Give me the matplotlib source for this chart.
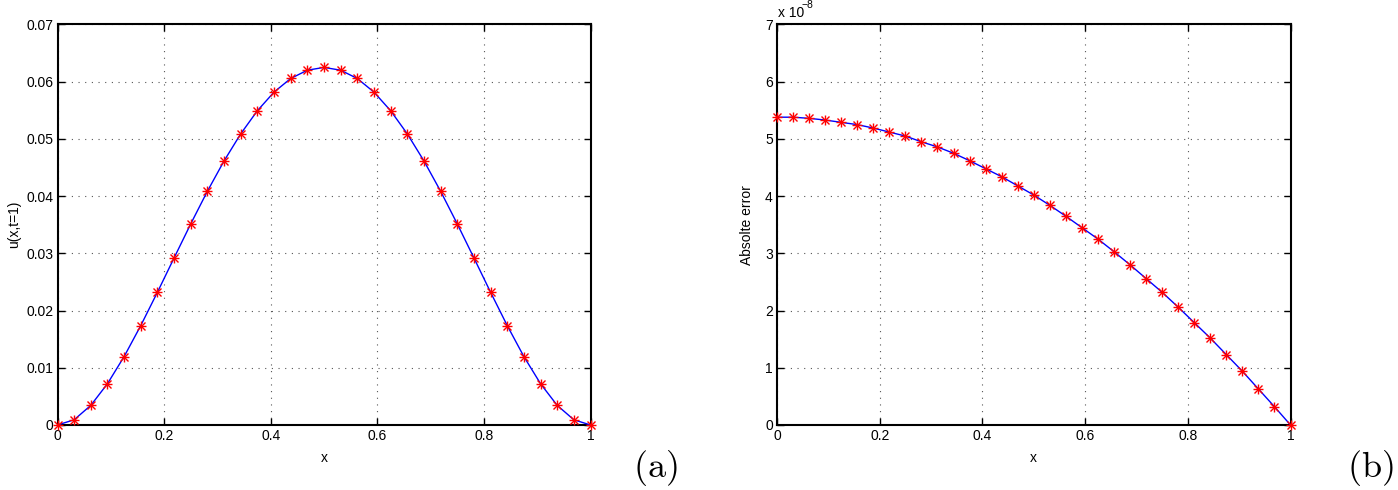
import matplotlib
matplotlib.use("Agg")
import matplotlib.pyplot as plt
import numpy as np

plt.rcParams['font.family'] = ['Liberation Sans', 'DejaVu Sans']
plt.rcParams['mathtext.fontset'] = 'cm'

# x positions (33 nodes)
x_nodes = [i / 32 for i in range(33)]

# panel (a): u(x, t=1)
u_vals = [0.0, 0.000916, 0.003433, 0.007218, 0.011963, 0.017381, 0.023209, 0.029206,
          0.035156, 0.040864, 0.046158, 0.050889, 0.054932, 0.058183, 0.060562, 0.062013,
          0.0625,
          0.062013, 0.060562, 0.058183, 0.054932, 0.050889, 0.046158, 0.040864, 0.035156,
          0.029206, 0.023209, 0.017381, 0.011963, 0.007218, 0.003433, 0.000916, 0.0]

# panel (b): absolute error (x 1e-8)
err_vals = [5.38, 5.38, 5.36, 5.33, 5.29, 5.25, 5.19, 5.12, 5.05, 4.95, 4.86, 4.75,
            4.62, 4.48, 4.34, 4.18, 4.02, 3.84, 3.65, 3.45, 3.25, 3.03, 2.80, 2.56,
            2.32, 2.06, 1.79, 1.52, 1.23, 0.94, 0.63, 0.32, 0.0]

x_ticks = [0, 0.2, 0.4, 0.6, 0.8, 1]
x_ticklabels = ['0', '0.2', '0.4', '0.6', '0.8', '1']
ya_ticks = [0, 0.01, 0.02, 0.03, 0.04, 0.05, 0.06, 0.07]
ya_ticklabels = ['0', '0.01', '0.02', '0.03', '0.04', '0.05', '0.06', '0.07']
yb_ticks = [0, 1, 2, 3, 4, 5, 6, 7]
yb_ticklabels = ['0', '1', '2', '3', '4', '5', '6', '7']

W, H = 1398, 490
fig = plt.figure(figsize=(W / 100, H / 100), dpi=100)

def frac(l, r, t, b):
    return [l / W, 1 - b / H, (r - l) / W, (b - t) / H]

axa = fig.add_axes(frac(57.5, 590.5, 24.5, 425))
axb = fig.add_axes(frac(777, 1290.5, 24.5, 425))

def style(ax, yt, ytl, ylim):
    ax.set_xlim(0, 1)
    ax.set_ylim(*ylim)
    ax.set_xticks(x_ticks)
    ax.set_xticklabels(x_ticklabels)
    ax.set_yticks(yt)
    ax.set_yticklabels(ytl)
    ax.tick_params(direction='in', top=True, right=True, length=5, width=1,
                   labelsize=10, pad=3, colors='black')
    ax.grid(True, linestyle=(0, (1, 5)), color='#555555', linewidth=0.8)
    for s in ax.spines.values():
        s.set_linewidth(1.5)
        s.set_color('black')

def draw(ax, y):
    ax.plot(x_nodes, y, color='#0000ff', linewidth=1.0, zorder=3)
    ax.plot(x_nodes, y, linestyle='none', marker='+', color='#ff0000',
            markersize=7.5, markeredgewidth=1.0, zorder=4, clip_on=False)
    ax.plot(x_nodes, y, linestyle='none', marker='x', color='#ff0000',
            markersize=5.5, markeredgewidth=1.0, zorder=4, clip_on=False)

draw(axa, u_vals)
style(axa, ya_ticks, ya_ticklabels, (0, 0.07))
axa.set_xlabel('x', fontsize=10, labelpad=6)
axa.set_ylabel('u(x,t=1)', fontsize=10, labelpad=4)

draw(axb, err_vals)
style(axb, yb_ticks, yb_ticklabels, (0, 7))
axb.set_xlabel('x', fontsize=10, labelpad=6)
axb.set_ylabel('Absolte error', fontsize=10, labelpad=8)

fig.text(778 / W, 1 - 13 / H, 'x 10', fontsize=10, ha='left', va='center')
fig.text(802 / W, 1 - 5 / H, '\u22128', fontsize=7.5, ha='left', va='center')

fig.text(655 / W, 1 - 468 / H, r'$\mathrm{(a)}$', fontsize=26, ha='center', va='center')
fig.text(1370 / W, 1 - 468 / H, r'$\mathrm{(b)}$', fontsize=26, ha='center', va='center')

fig.savefig('out.png', dpi=100)
